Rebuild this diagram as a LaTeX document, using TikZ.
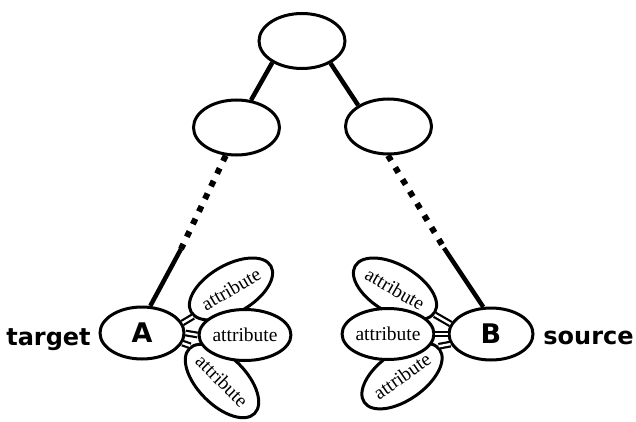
\documentclass[tikz,border=0pt]{standalone}
\usepackage{fontspec}
\setmainfont{Liberation Serif}
\newfontfamily\labfont{DejaVu Sans}
\usetikzlibrary{shapes.geometric}
\begin{document}
\begin{tikzpicture}[x=1pt,y=-1pt,
  ell/.style={ellipse, draw, fill=white, line width=3pt, inner sep=0pt,
              minimum width=86pt, minimum height=55pt},
  attr/.style={ell, minimum width=92pt, minimum height=48pt,
               font=\fontsize{19.5}{19.5}\selectfont},
  letter/.style={font=\labfont\bfseries\fontsize{27}{27}\selectfont},
  tree/.style={line width=4.5pt},
  dots/.style={line width=6pt, dash pattern=on 6pt off 8pt},
  link/.style={double, line width=2.2pt, double distance=2.4pt},
  lab/.style={font=\labfont\bfseries\fontsize{24}{24}\selectfont, inner sep=0pt, anchor=base},
]
\useasboundingbox (0,0) rectangle (636,422);

% tree nodes
\node[ell] (r) at (302,41) {};
\node[ell] (l) at (236.5,127.5) {};
\node[ell] (m) at (388.5,126.5) {};

% left group
\node[ell, minimum width=84pt, minimum height=52pt, letter] (A) at (142,333) {A};
\node[attr, rotate=30] (au) at (231,289) {attribute};
\node[attr, rotate=-45] (al) at (222,381) {attribute};
\node[attr, minimum width=84pt, minimum height=51pt] (am) at (245,335) {attribute};

% right group
\node[ell, minimum width=84pt, minimum height=52pt, letter] (B) at (491,334) {B};
\node[attr, rotate=-30] (bu) at (395,289) {attribute};
\node[attr, rotate=35] (bl) at (402,376) {attribute};
\node[attr, minimum width=84pt, minimum height=51pt] (bm) at (388,334) {attribute};

% labels
\node[lab] (tgt) at (48.5,345) {target};
\node[lab] (src) at (588.5,344) {source};

% tree connectors
\draw[tree] (r.216) -- (l.62);
\draw[tree] (r.-38) -- (m.145);

\coordinate (cl) at (181,249);
\coordinate (cr) at (444,248);
\draw[dots] (l.249) -- (cl);
\draw[tree] (cl) -- (A.73);
\draw[dots] (m.269) -- (cr);
\draw[tree] (cr) -- (B.106);

% attribute links
\draw[link] (A.14) -- (au.186);
\draw[link] (A.east) -- (am.west);
\draw[link] (A.-14) -- (al.177);
\draw[link] (B.166) -- (bu.-3);
\draw[link] (B.west) -- (bm.east);
\draw[link] (B.194) -- (bl.4);
\end{tikzpicture}
\end{document}
